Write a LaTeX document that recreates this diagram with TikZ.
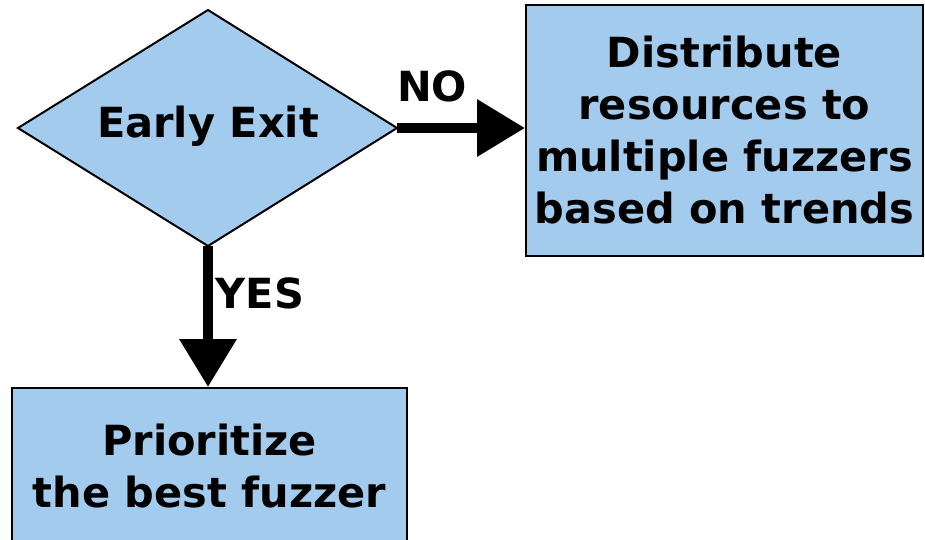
\documentclass[tikz,border=0pt]{standalone}
\usepackage{fontspec}
\setmainfont{DejaVu Sans}
\usetikzlibrary{arrows.meta}
\definecolor{boxblue}{HTML}{A2CBEE}
\tikzset{
  boxtext/.style={font=\fontsize{41.5}{52}\selectfont\bfseries},
  flowbox/.style={draw=black, line width=2pt, fill=boxblue, align=center,
    inner sep=0pt, boxtext},
  flowarrow/.style={line width=10pt, -{Triangle[length=48pt,width=55pt]}},
  branchlabel/.style={boxtext, inner sep=0pt}
}
\begin{document}
\begin{tikzpicture}[x=1pt,y=-1pt]
  \useasboundingbox (0,0) rectangle (925,539);
  % decision diamond
  \coordinate (dw) at (18,128);
  \coordinate (dn) at (208,10);
  \coordinate (de) at (397,128);
  \coordinate (ds) at (208,246);
  \draw[line width=2pt, fill=boxblue, line join=miter] (dw) -- (dn) -- (de) -- (ds) -- cycle;
  \node[boxtext, inner sep=0pt] (exit) at (208,126) {Early Exit};
  % outcome boxes
  \node[flowbox, minimum width=397pt, minimum height=251pt] (dist) at (724.5,130.5)
    {Distribute\\resources to\\multiple fuzzers\\based on trends};
  \node[flowbox, minimum width=395pt, minimum height=156pt] (best) at (209.5,466)
    {Prioritize\\the best fuzzer};
  % branches
  \draw[flowarrow] (de) -- (de -| dist.west);
  \draw[flowarrow] (ds) -- (ds |- best.north);
  \node[branchlabel] (no) at (432,86) {NO};
  \node[branchlabel] (yes) at (260,293) {YES};
\end{tikzpicture}
\end{document}
